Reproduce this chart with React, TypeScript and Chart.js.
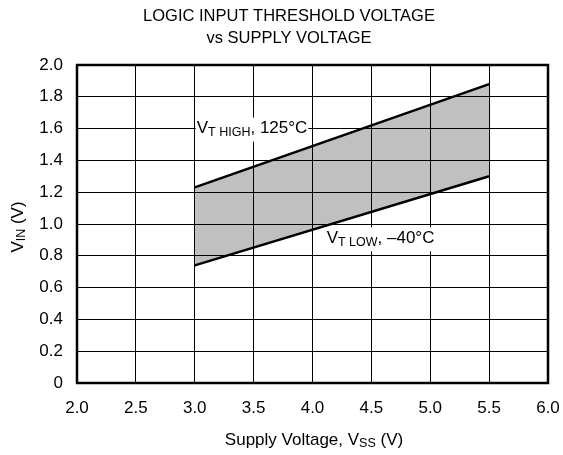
import React, { useEffect, useRef } from 'react';
import { Chart, registerables } from 'chart.js';
Chart.register(...registerables);

const supplyVoltage = [3.0, 5.5];
const vtHigh125 = [1.23, 1.88];
const vtLow40 = [0.74, 1.3];
const titleLines = ['LOGIC INPUT THRESHOLD VOLTAGE', 'vs SUPPLY VOLTAGE'];

const FONT = '"Liberation Sans", Arial, sans-serif';

type Part = { t: string; sub?: boolean };

function partsWidth(ctx: CanvasRenderingContext2D, parts: Part[], size: number, subSize: number) {
  let w = 0;
  for (const p of parts) {
    ctx.font = `${p.sub ? subSize : size}px ${FONT}`;
    w += ctx.measureText(p.t).width;
  }
  return w;
}

function drawParts(ctx: CanvasRenderingContext2D, parts: Part[], x: number, y: number, size: number, subSize: number) {
  ctx.textBaseline = 'middle';
  ctx.textAlign = 'left';
  let cx = x;
  for (const p of parts) {
    ctx.font = `${p.sub ? subSize : size}px ${FONT}`;
    ctx.fillText(p.t, cx, p.sub ? y + 4 : y);
    cx += ctx.measureText(p.t).width;
  }
}

const textPlugin = {
  id: 'textPlugin',
  afterDraw(chart: any) {
    const ctx: CanvasRenderingContext2D = chart.ctx;
    const { left, top, right, bottom } = chart.chartArea;
    const xs = chart.scales.x;
    const ys = chart.scales.y;
    ctx.save();
    ctx.strokeStyle = '#000';
    ctx.lineWidth = 2.5;
    ctx.strokeRect(left, top, right - left, bottom - top);

    ctx.fillStyle = '#000';
    ctx.font = `16.5px ${FONT}`;
    ctx.textAlign = 'center';
    ctx.textBaseline = 'middle';
    ctx.fillText(titleLines[0], 289, 16);
    ctx.fillText(titleLines[1], 289, 38);

    const labels: { parts: Part[]; x: number; y: number }[] = [
      { parts: [{ t: 'V' }, { t: 'T HIGH', sub: true }, { t: ', 125°C' }], x: xs.getPixelForValue(3.0) + 2, y: ys.getPixelForValue(1.6) },
      { parts: [{ t: 'V' }, { t: 'T LOW', sub: true }, { t: ', –40°C' }], x: xs.getPixelForValue(4.12), y: ys.getPixelForValue(0.91) },
    ];
    for (const l of labels) {
      const w = partsWidth(ctx, l.parts, 17, 12.5);
      ctx.fillStyle = '#fff';
      ctx.fillRect(l.x - 1, l.y - 11, w + 2, 24);
      ctx.fillStyle = '#000';
      drawParts(ctx, l.parts, l.x, l.y, 17, 12.5);
    }

    const xt: Part[] = [{ t: 'Supply Voltage, V' }, { t: 'SS', sub: true }, { t: ' (V)' }];
    const xw = partsWidth(ctx, xt, 17, 12.5);
    drawParts(ctx, xt, 314 - xw / 2, 440, 17, 12.5);

    const yt: Part[] = [{ t: 'V' }, { t: 'IN', sub: true }, { t: ' (V)' }];
    const yw = partsWidth(ctx, yt, 17, 12.5);
    ctx.translate(18, 227);
    ctx.rotate(-Math.PI / 2);
    drawParts(ctx, yt, -yw / 2, 0, 17, 12.5);
    ctx.restore();
  },
};

export default function App() {
  const ref = useRef<HTMLCanvasElement>(null);
  useEffect(() => {
    document.body.style.margin = '0';
    const chart = new Chart(ref.current!, {
      type: 'scatter',
      data: {
        datasets: [
          {
            label: 'VT HIGH 125°C',
            data: supplyVoltage.map((x, i) => ({ x, y: vtHigh125[i] })),
            showLine: true,
            borderColor: '#000',
            borderWidth: 2.5,
            pointRadius: 0,
            fill: 1,
            backgroundColor: '#c0c0c0',
          },
          {
            label: 'VT LOW -40°C',
            data: supplyVoltage.map((x, i) => ({ x, y: vtLow40[i] })),
            showLine: true,
            borderColor: '#000',
            borderWidth: 2.5,
            pointRadius: 0,
            fill: false,
          },
        ],
      },
      options: {
        animation: false,
        responsive: true,
        maintainAspectRatio: false,
        layout: { padding: { top: 65, right: 15, left: 0, bottom: 0 } },
        plugins: {
          legend: { display: false },
          tooltip: { enabled: false },
          filler: { drawTime: 'beforeDraw' } as any,
        },
        scales: {
          x: {
            type: 'linear',
            min: 2,
            max: 6,
            afterFit: (s: any) => { s.height = 72; s.paddingLeft = 0; s.paddingRight = 0; },
            ticks: {
              stepSize: 0.5,
              color: '#000',
              padding: 15,
              font: { family: FONT, size: 17 },
              callback: (v: any) => Number(v).toFixed(1),
            },
            grid: { color: '#000', lineWidth: 1, drawTicks: false },
            border: { display: false },
          },
          y: {
            min: 0,
            max: 2,
            afterFit: (s: any) => { s.width = 77; s.paddingTop = 0; s.paddingBottom = 0; },
            ticks: {
              stepSize: 0.2,
              color: '#000',
              padding: 14,
              font: { family: FONT, size: 17 },
              callback: (v: any) => (Math.abs(Number(v)) < 1e-9 ? '0' : Number(v).toFixed(1)),
            },
            grid: { color: '#000', lineWidth: 1, drawTicks: false },
            border: { display: false },
          },
        },
      },
      plugins: [textPlugin],
    });
    return () => chart.destroy();
  }, []);
  return (
    <div style={{ width: 563, height: 455, position: 'relative' }}>
      <canvas ref={ref} />
    </div>
  );
}
